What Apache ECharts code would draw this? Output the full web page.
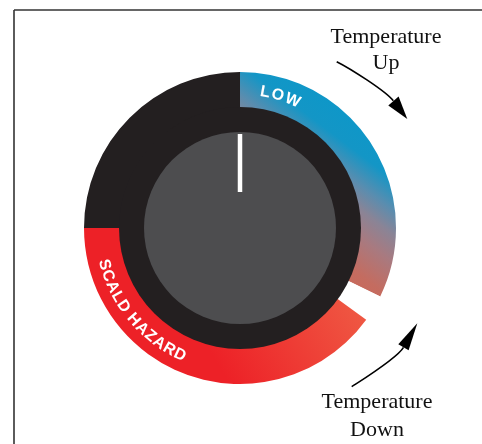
<!DOCTYPE html>
<html>
<head>
<meta charset="utf-8">
<script src="https://cdn.jsdelivr.net/npm/echarts/dist/echarts.min.js"></script>
<style>
html,body{margin:0;padding:0;background:#fff;}
#chart{width:482px;height:444px;}
</style>
</head>
<body>
<div id="chart"></div>
<script>
// ---- data ----
const ringNames = ['LOW', 'gap', 'SCALD HAZARD', 'off'];
const ringSpans = [116, 10, 144, 90];           // degrees of dial, clockwise from top
const dialValue = [0];                          // needle position (0 = straight up)
const upText = ['Temperature', 'Up'];
const downText = ['Temperature', 'Down'];
const lowLabel = 'LOW';
const scaldLabel = 'SCALD HAZARD';

// ---- layout ----
const CX = 240, CY = 228;
const R_OUT = 156, R_IN = 121, R_KNOB = 96;

const chart = echarts.init(document.getElementById('chart'), null, {renderer: 'canvas'});

const lowGrad = {
  type: 'linear', global: true,
  x: 452, y: 189, x2: 369, y2: 299,
  colorStops: [
    {offset: 0, color: '#0e97c8'},
    {offset: 0.2, color: '#1396c6'},
    {offset: 0.38, color: '#5a8daf'},
    {offset: 0.52, color: '#8a8496'},
    {offset: 0.68, color: '#a87a80'},
    {offset: 0.9, color: '#c46c60'},
    {offset: 1, color: '#c86a5c'}
  ]
};
const redGrad = {
  type: 'linear', global: true,
  x: 365, y: 305, x2: 230, y2: 385,
  colorStops: [
    {offset: 0, color: '#ef5a44'},
    {offset: 1, color: '#ed2127'}
  ]
};
const ringColors = [lowGrad, '#ffffff', redGrad, '#231f20'];

// curved text helper
const mctx = document.createElement('canvas').getContext('2d');
function arcText(str, font, spacing, r, midDeg, dir, uprightDeg) {
  mctx.font = font;
  const chars = str.split('');
  const ws = chars.map(c => mctx.measureText(c).width);
  const total = ws.reduce((a, b) => a + b, 0) + spacing * (chars.length - 1);
  let acc = 0;
  const out = [];
  chars.forEach((c, i) => {
    const s = acc + ws[i] / 2 - total / 2;
    acc += ws[i] + spacing;
    if (c === ' ') return;
    const th = midDeg + dir * (s / r) * 180 / Math.PI;
    const rad = th * Math.PI / 180;
    out.push({
      type: 'text',
      x: CX + r * Math.cos(rad),
      y: CY - r * Math.sin(rad),
      rotation: (th - uprightDeg) * Math.PI / 180,
      z: 100,
      silent: true,
      style: {text: c, font: font, fill: '#ffffff', align: 'center', verticalAlign: 'middle'}
    });
  });
  return out;
}

const labelFont = 'bold 16px "Liberation Sans", Arial, sans-serif';
const serifFont = '22px "Liberation Serif", "Times New Roman", serif';

const graphics = [
  // frame
  {type: 'line', silent: true, shape: {x1: 14, y1: 10, x2: 14, y2: 444}, style: {stroke: '#333', lineWidth: 1.6}},
  {type: 'line', silent: true, shape: {x1: 14, y1: 10, x2: 482, y2: 10}, style: {stroke: '#333', lineWidth: 1.6}},
  // annotations
  {type: 'text', silent: true, x: 386, y: 50, style: {text: upText.join('\n'), font: serifFont, fill: '#111', align: 'center', verticalAlign: 'middle', lineHeight: 26}},
  {type: 'text', silent: true, x: 377, y: 416, style: {text: downText.join('\n'), font: serifFont, fill: '#111', align: 'center', verticalAlign: 'middle', lineHeight: 28}},
  // arrows
  {type: 'bezierCurve', silent: true, shape: {x1: 336.7, y1: 61.7, cpx1: 350.1, cpy1: 68.4, cpx2: 386, cpy2: 91.3, x2: 393.3, y2: 100.8}, style: {stroke: '#000', lineWidth: 1.6, fill: null}},
  {type: 'polygon', silent: true, shape: {points: [[407.3, 119], [388.3, 105.5], [398.6, 96.5]]}, style: {fill: '#000'}},
  {type: 'bezierCurve', silent: true, shape: {x1: 351.7, y1: 386.7, cpx1: 364.2, cpy1: 378.5, cpx2: 397.5, cpy2: 357.7, x2: 403.5, y2: 347.3}, style: {stroke: '#000', lineWidth: 1.6, fill: null}},
  {type: 'polygon', silent: true, shape: {points: [[417.3, 323.3], [398.3, 344.3], [408.6, 350.3]]}, style: {fill: '#000'}}
].concat(
  arcText(lowLabel, labelFont, 2, 138, 73, -1, 90),
  arcText(scaldLabel, labelFont, 0.5, 140.5, 220, 1, 270)
);

const option = {
  animation: false,
  graphic: graphics,
  series: [
    {
      type: 'pie', silent: true, z: 1,
      center: [CX, CY], radius: [R_IN - 2, R_OUT],
      startAngle: 90, clockwise: true,
      label: {show: false}, labelLine: {show: false},
      data: ringNames.map((n, i) => ({name: n, value: ringSpans[i], itemStyle: {color: ringColors[i], borderWidth: 0}}))
    },
    {
      type: 'pie', silent: true, z: 2,
      center: [CX, CY], radius: [0, R_IN],
      label: {show: false}, labelLine: {show: false},
      itemStyle: {color: '#231f20', borderWidth: 0},
      data: [{name: 'body', value: 1}]
    },
    {
      type: 'pie', silent: true, z: 3,
      center: [CX, CY], radius: [0, R_KNOB],
      label: {show: false}, labelLine: {show: false},
      itemStyle: {color: '#4d4d4f', borderWidth: 0},
      data: [{name: 'knob', value: 1}]
    },
    {
      type: 'gauge', silent: true, z: 4,
      center: [CX, CY], radius: R_KNOB,
      startAngle: 90, endAngle: -270, min: 0, max: 360,
      axisLine: {show: false}, splitLine: {show: false}, axisTick: {show: false},
      axisLabel: {show: false}, progress: {show: false}, anchor: {show: false},
      title: {show: false}, detail: {show: false},
      pointer: {show: true, icon: 'rect', length: 58, width: 4.5, offsetCenter: [0, -36], itemStyle: {color: '#ffffff'}},
      data: dialValue.map(v => ({value: v}))
    }
  ]
};
chart.setOption(option);
</script>
</body>
</html>
